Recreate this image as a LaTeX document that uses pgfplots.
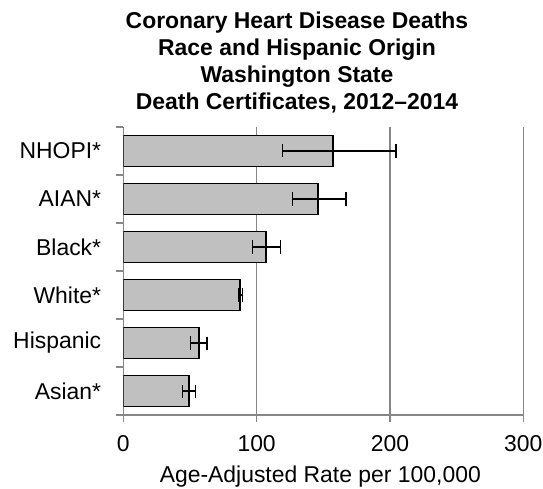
\documentclass[border=0pt]{standalone}
\usepackage{pgfplots}
\pgfplotsset{compat=1.18}
\usepackage{fontspec}
\setmainfont{Liberation Sans}
\definecolor{gridgray}{HTML}{868686}
\definecolor{barfill}{HTML}{C0C0C0}
\begin{document}
\begin{tikzpicture}
\begin{axis}[
  at={(0,0)}, anchor=south west,
  scale only axis, width=400bp, height=288bp,
  xbar, bar width=31bp,
  xmin=0, xmax=300, ymin=-0.5, ymax=5.5,
  xtick={0,100,200,300},
  ytick={-0.5,0.5,...,5.5}, yticklabels={},
  extra y ticks={0,1,2,3,4,5},
  extra y tick labels={Asian*,Hispanic,White*,Black*,AIAN*,NHOPI*},
  extra y tick style={major tick length=0pt, yticklabel style={inner sep=0pt, xshift=-22bp}},
  axis lines*=left,
  axis line style={gridgray, line width=1.4bp},
  tick style={gridgray, line width=1.4bp},
  tick align=outside, major tick length=7bp,
  xmajorgrids, grid style={gridgray, line width=1.4bp},
  /pgf/number format/assume math mode=true,
  tick label style={font=\fontsize{23}{27}\selectfont},
  xticklabel style={anchor=north, inner sep=0pt, yshift=-13bp},
  xlabel={Age-Adjusted Rate per 100,000},
  xlabel style={font=\fontsize{23}{27}\selectfont, at={(axis description cs:0.4925,0)}, anchor=north, inner sep=0pt, yshift=-51bp},
]
\addplot[fill=barfill, draw=black, line width=1.8bp,
  error bars/.cd, x dir=both, x explicit, error mark=|,
  error bar style={black, line width=1.4bp},
  error mark options={black, mark size=6.5bp, line width=1.4bp}]
coordinates {
  (49,0) += (5,0) -= (4.5,0)
  (56.5,1) += (6.3,0) -= (6,0)
  (87.8,2) += (1.7,0) -= (1.5,0)
  (107.3,3) += (10.5,0) -= (10.5,0)
  (146.3,4) += (20.7,0) -= (19.5,0)
  (157,5) += (47.5,0) -= (37.7,0)
};
\end{axis}
\node[align=center, anchor=north, inner sep=0pt, font=\bfseries\fontsize{23}{27}\selectfont] at (173.7bp,403bp)
  {Coronary Heart Disease Deaths\\Race and Hispanic Origin\\Washington State\\Death Certificates, 2012--2014};
\pgfresetboundingbox
\useasboundingbox (-123.3bp,-74bp) rectangle (419.7bp,415bp);
\end{tikzpicture}
\end{document}
